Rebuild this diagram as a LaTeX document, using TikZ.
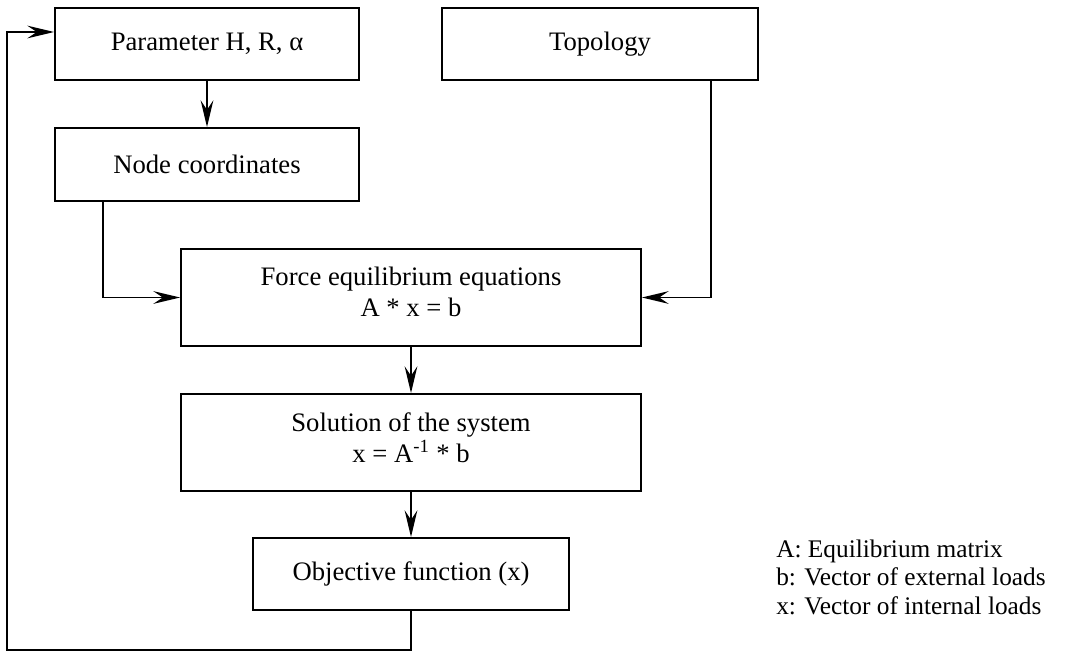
\documentclass[tikz,border=0pt]{standalone}
\usepackage{fontspec}
\setmainfont{Liberation Serif}
\usetikzlibrary{arrows.meta}

\begin{document}
\begin{tikzpicture}[x=0.75pt,y=-0.75pt,
		box/.style={draw, line width=1.4pt, align=center, inner sep=0pt, font=\fontsize{20}{23.5}\selectfont},
		flow/.style={-{Stealth[length=20pt,width=9.5pt,inset=7pt]}, line width=1.4pt}]
		\useasboundingbox (0,0) rectangle (1065,660);
		\node[box, minimum width=228pt, minimum height=54pt](param) at (207,44) {Parameter H, R, α};
		\node[box, minimum width=237pt, minimum height=54pt](topo) at (600,44) {Topology};
		\node[box, minimum width=228pt, minimum height=54.75pt](coords) at (207,164.5) {Node coordinates};
		\node[box, minimum width=345pt, minimum height=72.75pt](equil) at (411,297.5) {Force equilibrium equations\\A * x = b\rule[-9pt]{0pt}{0pt}};
		\node[box, minimum width=345pt, minimum height=72.75pt](solve) at (411,442.5) {Solution of the system\\x = A\textsuperscript{-1} * b\rule[-7pt]{0pt}{0pt}};
		\node[box, minimum width=237pt, minimum height=54pt](objfun) at (411,574) {Objective function (x)};
		\node[align=left, anchor=west, inner sep=0pt, font=\fontsize{19}{21.4}\selectfont](legend) at (776,577)
		{A: Equilibrium matrix\\b: Vector of external loads\\x: Vector of internal loads};
		\coordinate (backlow) at (7,650);
		\coordinate (backtop) at (7,32);
		\draw [flow] (param) -- (coords);
		\draw [flow] ([xshift=36.75pt]coords.south west) |- (equil.west);
		\draw [flow] ([xshift=-36pt]topo.south east) |- (equil.east);
		\draw [flow] (equil) -- (solve);
		\draw [flow] (solve) -- (objfun);
		\draw [flow] (objfun.south) |- (backlow) -- (backtop) -- (backtop -| param.west);
	\end{tikzpicture}
\end{document}
